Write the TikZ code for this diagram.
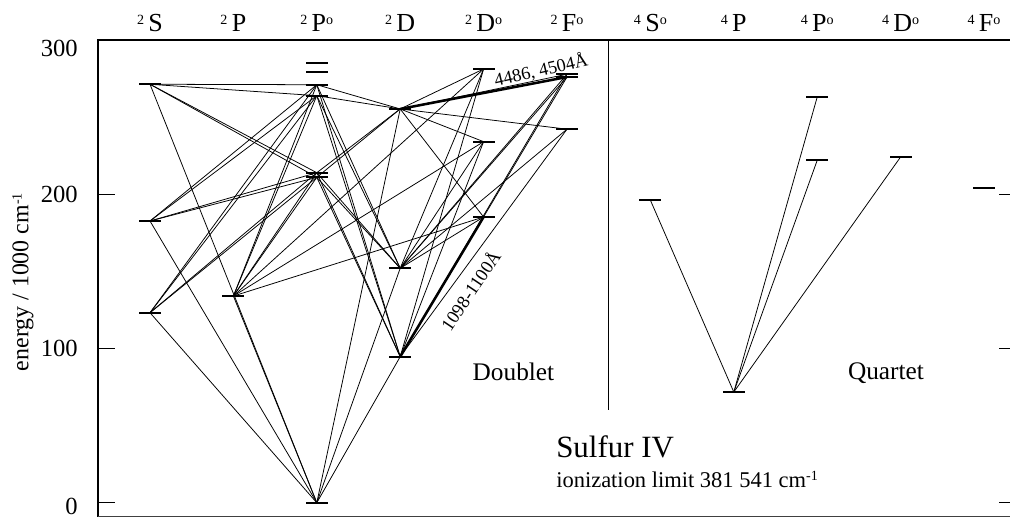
\documentclass[tikz,border=0pt]{standalone}
\usepackage{fontspec}
\setmainfont{Liberation Serif}
\newcommand{\upind}[1]{\raisebox{4.8pt}{\fontsize{10}{10}\selectfont #1}}
\tikzset{
  elevel/.style={fill=black, inner sep=0pt, minimum width=0.55cm, minimum height=1.4pt},
  trans/.style={line width=0.55pt},
  strong/.style={line width=1.8pt},
  term/.style={anchor=base, inner sep=0pt, font=\fontsize{18.5}{22}\selectfont},
  axislabel/.style={inner sep=0pt, font=\fontsize{17}{20}\selectfont},
  ticklabel/.style={anchor=east, inner sep=0pt, font=\fontsize{17.5}{20}\selectfont},
  group/.style={inner sep=0pt, font=\fontsize{18}{22}\selectfont},
  wavel/.style={inner sep=0pt, font=\fontsize{13}{15}\selectfont},
}
\begin{document}
\begin{tikzpicture}[x=2.085cm, y=0.038588cm]
  \useasboundingbox (-1.7986,-9.912) rectangle (10.3118,325.69);
  \draw[line width=1.3pt] (-0.6235,-9.07) -- (-0.6235,300) -- (10.3118,300);
  \draw[line width=0.8pt, black!75] (-0.6235,-9.07) -- (10.3118,-9.07);
  \draw[line width=0.6pt] (5.4916,300) -- (5.4916,60.06);
  \foreach \e in {0,100,200} {
    \draw[line width=0.6pt] (-0.6235,\e) -- (-0.4197,\e);
    \draw[line width=0.6pt] (10.18,\e) -- (10.3118,\e);
  }
  \foreach \e/\ey in {300/294.5, 200/200, 100/100, 0/-2.6}
    \node[ticklabel] (tick\e) at (-0.863,\ey) {\e};
  \node[axislabel, rotate=90] (ylabel) at (-1.523,142.9)
    {energy / 1000 cm\upind{-1}};

  \foreach \m/\t [count=\i from 0] in {2/S, 2/P, 2/P\upind{o}, 2/D, 2/D\upind{o}, 2/F\upind{o},
      4/S\upind{o}, 4/P, 4/P\upind{o}, 4/D\upind{o}, 4/F\upind{o}}
    \node[term] (term\i) at (\i,305.2) {\upind{\m}\,\t};

  % doublet levels
  \node[elevel] (Sa) at (0,271.1) {};
  \node[elevel] (Sb) at (0,182.5) {};
  \node[elevel] (Sc) at (0,123.1) {};
  \node[elevel] (P1) at (1,133.9) {};
  \node[elevel] (Po1) at (2,285.1) {};
  \node[elevel] (Po2) at (2,279.3) {};
  \node[elevel] (Po3) at (2,270.8) {};
  \node[elevel] (Po4) at (2,263.7) {};
  \node[elevel] (Po5) at (2,213.8) {};
  \node[elevel] (Po6) at (2,210.8) {};
  \node[elevel] (Po7) at (2,0) {};
  \node[elevel] (Da) at (3,255.1) {};
  \node[elevel] (Db) at (3,151.9) {};
  \node[elevel] (Dc) at (3,94.6) {};
  \node[elevel] (Do1) at (4,281) {};
  \node[elevel] (Do2) at (4,233.9) {};
  \node[elevel] (Do3) at (4,185.1) {};
  \node[elevel] (Fo1) at (5,277.6) {};
  \node[elevel] (Fo1b) at (5,275.8) {};
  \node[elevel] (Fo2) at (5,242) {};
  % quartet levels
  \node[elevel] (Qso) at (6,196) {};
  \node[elevel] (Qp) at (7,71.7) {};
  \node[elevel] (Qpo1) at (8,262.8) {};
  \node[elevel] (Qpo2) at (8,221.8) {};
  \node[elevel] (Qdo) at (9,224) {};
  \node[elevel] (Qfo) at (10,204.1) {};

  \foreach \a in {Sa,Sb,Sc,P1,Da,Db,Dc}
    \foreach \b in {Po3,Po4,Po5,Po6,Po7}
      \draw[trans] (\a.center) -- (\b.center);
  \foreach \a in {P1,Da,Db,Dc}
    \foreach \b in {Do1,Do2,Do3}
      \draw[trans] (\a.center) -- (\b.center);
  \foreach \a in {Da,Db,Dc}
    \foreach \b in {Fo1,Fo1b,Fo2}
      \draw[trans] (\a.center) -- (\b.center);
  \draw[strong] (Da.center) -- (Fo1b.center);
  \draw[strong] (Dc.center) -- (Do3.center);
  \foreach \b in {Qso,Qpo1,Qpo2,Qdo}
    \draw[trans] (Qp.center) -- (\b.center);

  \node[wavel, rotate=13] (lamA) at (4.688,280.3) {4486, 4504Å};
  \node[wavel, rotate=56] (lamB) at (3.837,137.8) {1098-1100Å};
  \node[group] (doublet) at (4.358,84.7) {Doublet};
  \node[group] (quartet) at (8.825,84.0) {Quartet};
  \node[anchor=base west, inner sep=0pt, font=\fontsize{22}{26}\selectfont] (element) at (4.868,29.0) {Sulfur IV};
  \node[anchor=base west, inner sep=0pt, font=\fontsize{16}{19}\selectfont] (limit) at (4.868,10.0)
    {ionization limit 381 541 cm\upind{-1}};
\end{tikzpicture}
\end{document}
